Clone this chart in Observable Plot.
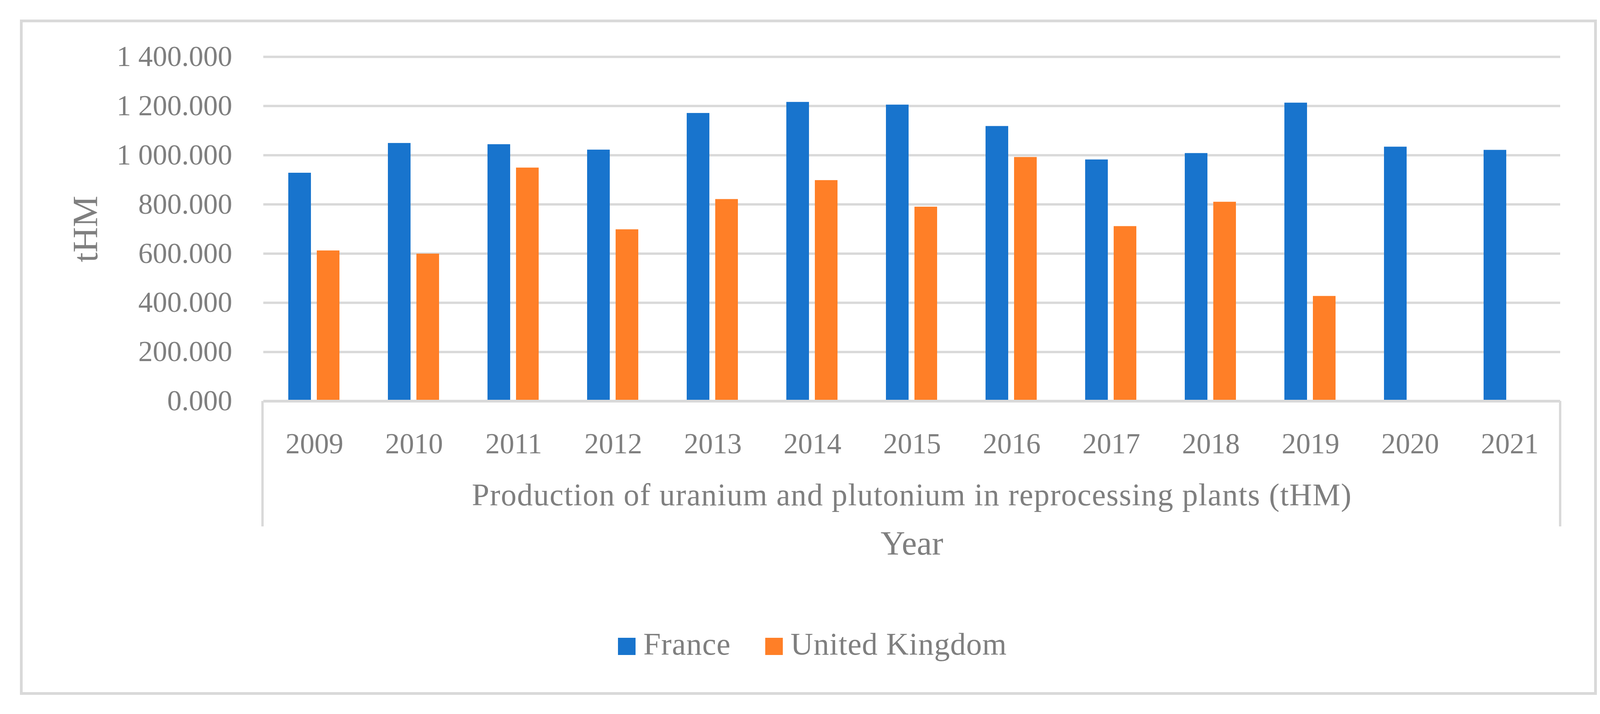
<!DOCTYPE html>
<html>
<head>
<meta charset="utf-8">
<script src="https://cdn.jsdelivr.net/npm/d3@7"></script>
<script src="https://cdn.jsdelivr.net/npm/@observablehq/plot@0.6"></script>
<style>
  html, body { margin: 0; padding: 0; background: #ffffff; }
  #wrap { position: relative; width: 4126px; height: 1827px; overflow: hidden; font-family: "Liberation Serif", "Times New Roman", serif; color: #7f7f7f; }
  #frame { position: absolute; left: 51px; top: 50px; width: 4037px; height: 1728px; border: 7px solid #d9d9d9; box-sizing: border-box; }
  #chart { position: absolute; left: 0; top: 0; }
  #legend { position: absolute; left: 1582px; top: 1600px; display: flex; align-items: center; height: 96px; font-size: 80px; color: #7f7f7f; }
  .sw { width: 45px; height: 44px; display: inline-block; margin-top: 12px; }
  .lab { margin-left: 20px; letter-spacing: 1px; }
  .item { display: flex; align-items: center; }
  .item + .item { margin-left: 88px; }
</style>
</head>
<body>
<div id="wrap">
  <div id="frame"></div>
  <div id="chart"></div>
  <div id="legend"></div>
</div>
<script>
// ---- data ----
const years = ["2009","2010","2011","2012","2013","2014","2015","2016","2017","2018","2019","2020","2021"];
const france = [928, 1049, 1044, 1022, 1171, 1216, 1205, 1118, 982, 1008, 1213, 1034, 1021];
const uk = [612, 599, 949, 698, 821, 898, 790, 992, 711, 810, 427, null, null];
const seriesNames = ["France", "United Kingdom"];
const seriesColors = ["#1874cd", "#ff7f27"];
const yTicks = [0, 200, 400, 600, 800, 1000, 1200, 1400];
const caption = "Production of uranium and plutonium in reprocessing plants (tHM)";
const xTitle = "Year";
const yTitle = "tHM";

const data = years.map((year, i) => ({year, france: france[i], uk: uk[i]}));
const fmt = d3.formatLocale({decimal: ".", thousands: " ", grouping: [3], currency: ["", ""]}).format(",.3f");

const grid = "#d9d9d9";
const textColor = "#7f7f7f";

const chart = Plot.plot({
  width: 4126,
  height: 1500,
  marginLeft: 674,
  marginRight: 132,
  marginTop: 145,
  marginBottom: 474,
  style: {fontFamily: "Liberation Serif, Times New Roman, serif", fontSize: "74px", color: textColor, background: "transparent"},
  x: {domain: years, padding: 0, tickSize: 0, tickPadding: 81, label: null},
  y: {domain: [0, 1400], ticks: yTicks, tickSize: 0, tickPadding: 80, tickFormat: fmt, label: null},
  marks: [
    Plot.ruleY(yTicks.filter(d => d > 0), {y: d => d, stroke: grid, strokeWidth: 6}),
    Plot.barY(data, {x: "year", y: "france", fill: seriesColors[0], insetLeft: 61, insetRight: 136}),
    Plot.barY(data.filter(d => d.uk != null), {x: "year", y: "uk", fill: seriesColors[1], insetLeft: 134, insetRight: 63}),
    Plot.ruleY([0], {y: d => d, stroke: grid, strokeWidth: 7}),
    Plot.text([caption], {text: d => d, frameAnchor: "bottom", textAnchor: "middle", dy: 266, fontSize: 80, fill: textColor}),
    Plot.text([xTitle], {text: d => d, frameAnchor: "bottom", textAnchor: "middle", dy: 392, fontSize: 87, fill: textColor}),
    Plot.text([yTitle], {text: d => d, frameAnchor: "left", textAnchor: "middle", dx: -454, rotate: -90, fontSize: 90, fill: textColor})
  ]
});

// inner category box: vertical lines at band-scale range edges, below the zero line
const xs = chart.scale("x");
const ys = chart.scale("y");
const y0 = ys.apply(0);
const svg = d3.select(chart);
[xs.range[0] - 2, xs.range[1]].forEach(x => {
  svg.append("line")
    .attr("x1", x).attr("x2", x)
    .attr("y1", y0).attr("y2", y0 + 321)
    .attr("stroke", grid).attr("stroke-width", 6);
});
svg.selectAll("text").each(function() {
  if (this.textContent === caption) d3.select(this).style("letter-spacing", "1.6px");
});

document.getElementById("chart").appendChild(chart);

// legend
const legend = d3.select("#legend");
seriesNames.forEach((name, i) => {
  const item = legend.append("div").attr("class", "item");
  item.append("span").attr("class", "sw").style("background", seriesColors[i]);
  item.append("span").attr("class", "lab").text(name);
});
</script>
</body>
</html>
